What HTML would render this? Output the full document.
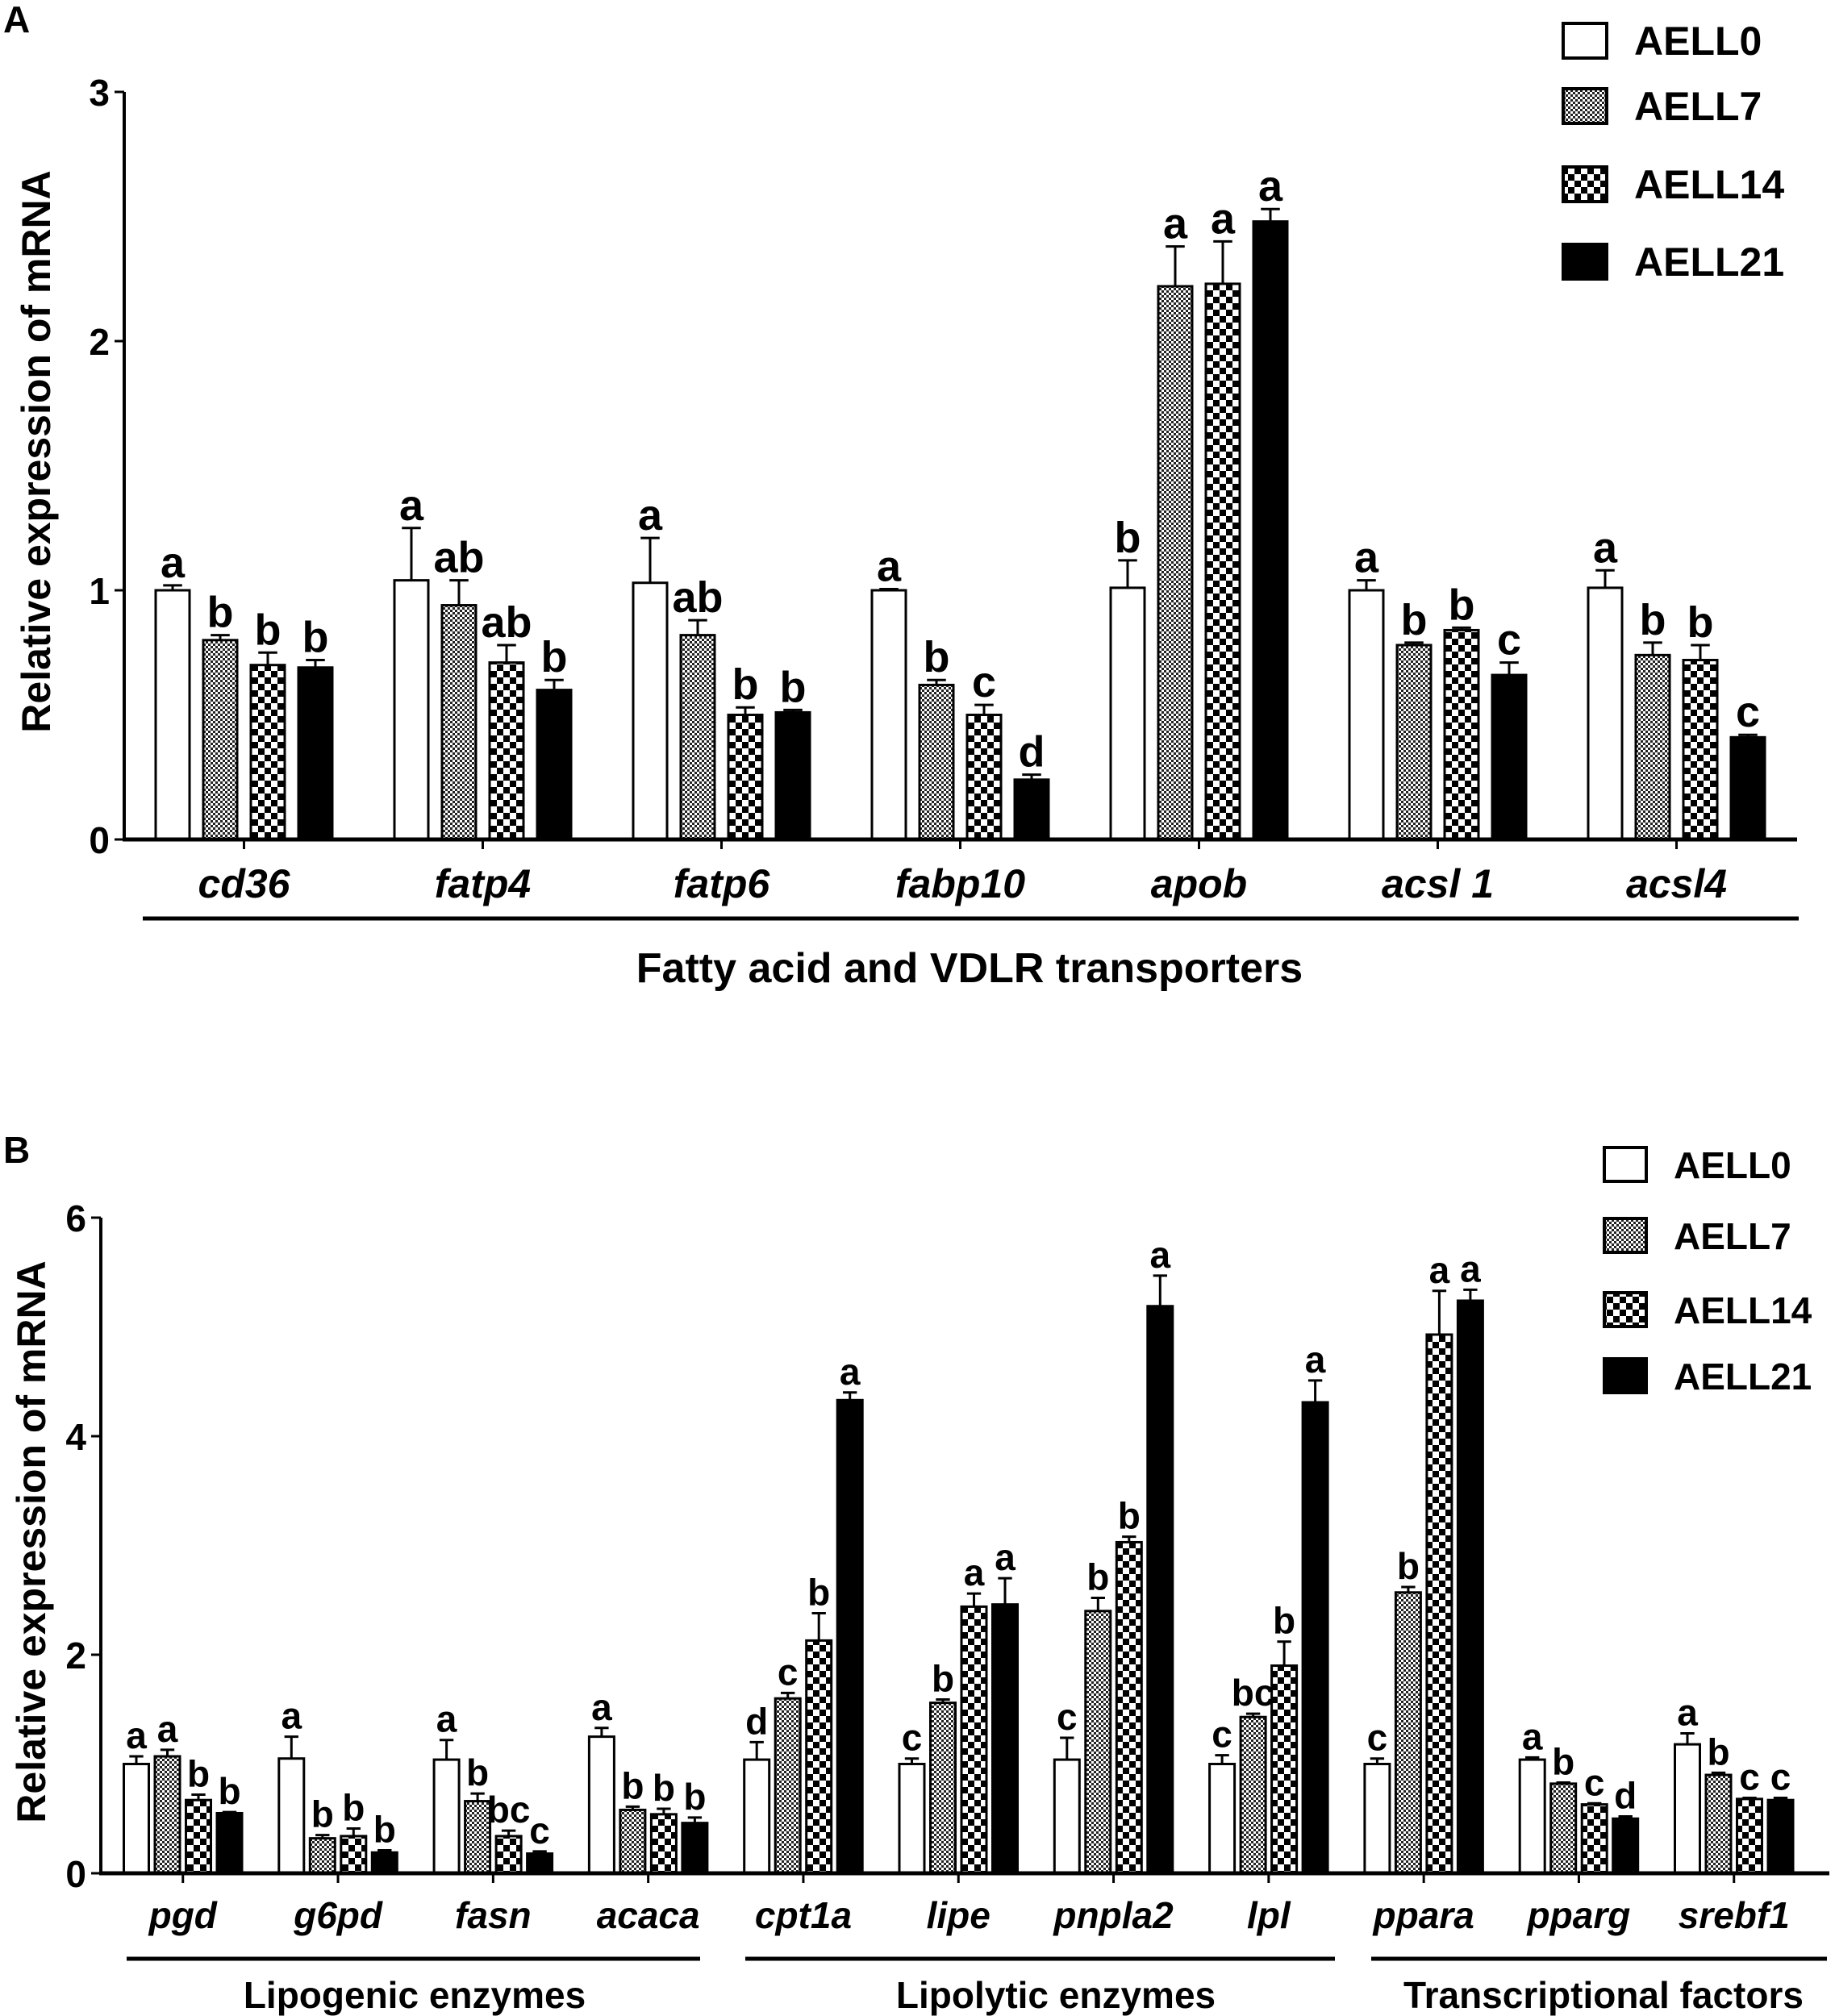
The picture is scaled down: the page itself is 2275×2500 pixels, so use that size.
<!DOCTYPE html>
<html><head><meta charset="utf-8"><style>
body{margin:0;background:#fff}
svg{display:block;font-family:"Liberation Sans",Arial,sans-serif;font-weight:bold}
</style></head><body>
<svg id="chart" width="2275" height="2500" viewBox="0 0 2275 2500" xmlns="http://www.w3.org/2000/svg">
<defs>
<pattern id="p7" width="6" height="6" patternUnits="userSpaceOnUse"><rect width="6" height="6" fill="#fff"/><rect width="3" height="3" fill="#222"/><rect x="3" y="3" width="3" height="3" fill="#222"/></pattern>
<pattern id="p14" width="16" height="16" patternUnits="userSpaceOnUse"><rect width="16" height="16" fill="#fff"/><rect width="8" height="8" fill="#000"/><rect x="8" y="8" width="8" height="8" fill="#000"/></pattern>
</defs>
<g id="root"></g>
</svg>
<script>
const NS="http://www.w3.org/2000/svg";
const seriesNames=["AELL0","AELL7","AELL14","AELL21"];
const fills=["#fff","url(#p7)","url(#p14)","#000"];
// Panel A data
const catsA=["cd36","fatp4","fatp6","fabp10","apob","acsl 1","acsl4"];
const valsA=[[1.0,0.80,0.70,0.69],[1.04,0.94,0.71,0.60],[1.03,0.82,0.50,0.51],[1.0,0.62,0.50,0.24],[1.01,2.22,2.23,2.48],[1.0,0.78,0.84,0.66],[1.01,0.74,0.72,0.41]];
const errsA=[[0.02,0.02,0.05,0.03],[0.21,0.10,0.07,0.04],[0.18,0.06,0.03,0.01],[0.005,0.02,0.04,0.02],[0.11,0.16,0.17,0.05],[0.04,0.01,0.01,0.05],[0.07,0.05,0.06,0.01]];
const letA=[["a","b","b","b"],["a","ab","ab","b"],["a","ab","b","b"],["a","b","c","d"],["b","a","a","a"],["a","b","b","c"],["a","b","b","c"]];
const ticksA=[0,1,2,3];
// Panel B data
const catsB=["pgd","g6pd","fasn","acaca","cpt1a","lipe","pnpla2","lpl","ppara","pparg","srebf1"];
const valsB=[[1.0,1.07,0.67,0.55],[1.05,0.32,0.34,0.19],[1.04,0.66,0.34,0.18],[1.25,0.58,0.54,0.46],[1.04,1.60,2.13,4.33],[1.0,1.56,2.44,2.46],[1.04,2.40,3.03,5.19],[1.0,1.43,1.90,4.31],[1.0,2.57,4.93,5.24],[1.04,0.82,0.63,0.50],[1.18,0.90,0.68,0.67]];
const errsB=[[0.07,0.06,0.05,0.01],[0.20,0.03,0.07,0.02],[0.18,0.07,0.05,0.02],[0.08,0.03,0.05,0.05],[0.16,0.05,0.25,0.07],[0.05,0.03,0.12,0.24],[0.20,0.12,0.05,0.28],[0.08,0.03,0.22,0.20],[0.05,0.05,0.40,0.10],[0.02,0.01,0.01,0.02],[0.10,0.02,0.01,0.02]];
const letB=[["a","a","b","b"],["a","b","b","b"],["a","b","bc","c"],["a","b","b","b"],["d","c","b","a"],["c","b","a","a"],["c","b","b","a"],["c","bc","b","a"],["c","b","a","a"],["a","b","c","d"],["a","b","c","c"]];
const ticksB=[0,2,4,6];
const groupsB=["Lipogenic  enzymes","Lipolytic enzymes","Transcriptional factors"];

const root=document.getElementById('root');
function el(tag,attrs,parent,text){const e=document.createElementNS(NS,tag);for(const k in attrs)e.setAttribute(k,attrs[k]);if(text!==undefined)e.textContent=text;(parent||root).appendChild(e);return e;}

function panel(o){
  const g=el('g',{});
  
  
  const y=v=>o.y0-(v/o.max)*(o.y0-o.yTop);
  const gx=i=>o.firstX+i*o.groupStep;
  o.vals.forEach((row,i)=>{
    row.forEach((v,j)=>{
      const cx=gx(i)+j*o.pitch;
      const top=y(v), et=y(v+o.errs[i][j]);
      const ln=el('line',{x1:cx,x2:cx,y1:top,y2:et,stroke:'#000','stroke-width':3},g);
      
      
      const cap=el('line',{x1:cx-o.bw*0.28,x2:cx+o.bw*0.28,y1:et,y2:et,stroke:'#000','stroke-width':3},g);
      
      
      const r=el('rect',{x:cx-o.bw/2,y:top,width:o.bw,height:o.y0-top,fill:fills[j],stroke:'#000','stroke-width':3},g);
      
      
      const t=el('text',{x:cx,y:et-10,'font-size':o.lf,'text-anchor':'middle'},g,o.lets[i][j]);
      
      
    });
    const c=gx(i)+1.5*o.pitch;
    const tk=el('line',{x1:c,x2:c,y1:o.y0,y2:o.y0+12,stroke:'#000','stroke-width':3},g);
    
    
    const cl=el('text',{x:c,y:o.catY,'font-size':o.cf,'font-style':'italic','text-anchor':'middle'},g,o.cats[i]);
    
    
  });
  const ya=el('line',{x1:o.ax,x2:o.ax,y1:o.yTop,y2:o.y0+2,stroke:'#000','stroke-width':4},g);
  
  
  const xa=el('line',{x1:o.ax-2,x2:o.axEnd,y1:o.y0,y2:o.y0,stroke:'#000','stroke-width':5},g);
  
  
  o.ticks.forEach(tv=>{
    const yy=y(tv);
    const t=el('line',{x1:o.ax-12,x2:o.ax,y1:yy,y2:yy,stroke:'#000','stroke-width':3},g);
    
    
    const l=el('text',{x:o.ax-18,y:yy+17,'font-size':46,'text-anchor':'end'},g,String(tv));
    
    
  });
  const yt=el('text',{x:0,y:0,'font-size':50,'text-anchor':'middle',transform:`translate(${o.ytX},${o.ytY}) rotate(-90)`},g,'Relative expression of mRNA');
  
  
  const pl=el('text',{x:4,y:o.labelY,'font-size':46},g,o.label);
  
  
  seriesNames.forEach((s,j)=>{
    const lg=el('g',{},g);
    
    
    const yy=o.legY[j];
    el('rect',{x:o.legX,y:yy,width:o.legW,height:o.legH,fill:fills[j],stroke:'#000','stroke-width':4},lg);
    el('text',{x:o.legX+o.legW+34,y:yy+o.legH-4,'font-size':o.legF},lg,s);
  });
  return g;
}

panel({name:'panel-a',label:'A',labelY:40,cats:catsA,vals:valsA,errs:errsA,lets:letA,ticks:ticksA,max:3,
  y0:1041,yTop:114,ax:154,axEnd:2228,firstX:214,groupStep:296,pitch:59,bw:42,lf:54,cf:50,catY:1113,
  ytX:62,ytY:560,legX:1938,legW:54,legH:43,legY:[29,110,207,303],legF:50});
panel({name:'panel-b',label:'B',labelY:1442,cats:catsB,vals:valsB,errs:errsB,lets:letB,ticks:ticksB,max:6,
  y0:2323,yTop:1510,ax:125,axEnd:2268,firstX:169,groupStep:192.3,pitch:38.5,bw:31,lf:46,cf:46,catY:2391,
  ytX:56,ytY:1912,legX:1989,legW:52,legH:42,legY:[1423,1511,1603,1685],legF:46});

const la=el('line',{x1:177,x2:2230,y1:1139,y2:1139,stroke:'#000','stroke-width':5});


const ta=el('text',{x:1202,y:1218,'font-size':52,'text-anchor':'middle'},null,'Fatty acid and VDLR transporters');


const bx=[[157,868,514],[924,1655,1309],[1700,2265,1988]];
groupsB.forEach((nm,k)=>{
  const l=el('line',{x1:bx[k][0],x2:bx[k][1],y1:2429,y2:2429,stroke:'#000','stroke-width':5});
  
  
  const t=el('text',{x:bx[k][2],y:2490,'font-size':46,'text-anchor':'middle'},null,nm);
  
  
});
</script>
</body></html>
